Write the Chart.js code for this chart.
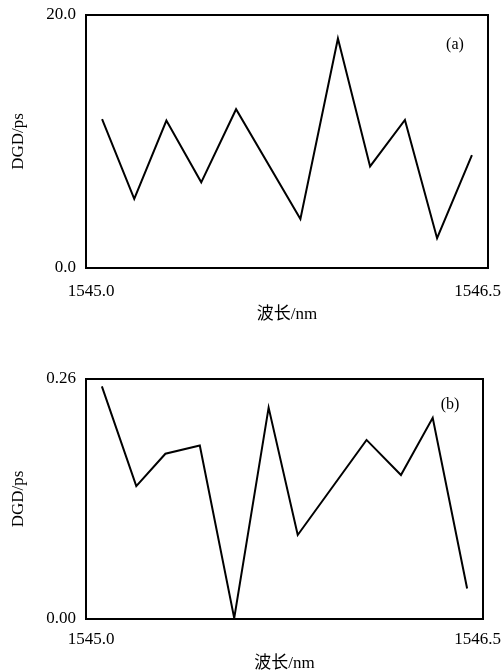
<!DOCTYPE html>
<html>
<head>
<meta charset="utf-8">
<script src="https://cdn.jsdelivr.net/npm/chart.js@4"></script>
<style>
  html, body { margin: 0; padding: 0; background: #fff; }
  #wrap { position: relative; width: 503px; height: 671px; }
  .box { position: absolute; left: 0; width: 503px; }
</style>
</head>
<body>
<div id="wrap">
  <div class="box" style="top:0;height:335px"><canvas id="chartA"></canvas></div>
  <div class="box" style="top:335px;height:336px"><canvas id="chartB"></canvas></div>
</div>
<script>
// wavelength (nm) and DGD (ps)
const waveA = [1545.06, 1545.18, 1545.30, 1545.43, 1545.56, 1545.80, 1545.94, 1546.06, 1546.19, 1546.31, 1546.44];
const dgdA  = [11.76, 5.46, 11.65, 6.77, 12.55, 3.88, 18.14, 8.03, 11.70, 2.36, 8.92];

const waveB = [1545.06, 1545.19, 1545.30, 1545.43, 1545.56, 1545.69, 1545.80, 1546.06, 1546.19, 1546.31, 1546.44];
const dgdB  = [0.252, 0.144, 0.179, 0.188, 0.001, 0.229, 0.091, 0.194, 0.156, 0.218, 0.033];

const xRange = [1545.0, 1546.5];
const yTicksA = [0, 20];
const yTicksB = [0, 0.26];
const xTitle = '波长/nm';
const yTitle = 'DGD/ps';

const FONT = '"Liberation Serif", "DejaVu Serif", "Noto Sans CJK SC", serif';

// frame, x tick labels, x title and panel tag
const framePlugin = {
  id: 'frame',
  afterDraw(chart, args, opts) {
    const ctx = chart.ctx;
    const a = chart.chartArea;
    const xs = chart.scales.x;
    ctx.save();
    ctx.strokeStyle = '#000';
    ctx.lineWidth = 2;
    ctx.strokeRect(a.left, a.top, a.right - a.left, a.bottom - a.top);

    ctx.fillStyle = '#000';
    ctx.font = '17px ' + FONT;
    ctx.textBaseline = 'middle';
    ctx.textAlign = 'center';
    ctx.fillText(xRange[0].toFixed(1), xs.getPixelForValue(xRange[0]) + 5, a.bottom + opts.labelGap);
    ctx.textAlign = 'right';
    ctx.fillText(xRange[1].toFixed(1), chart.width - 2, a.bottom + opts.labelGap);

    ctx.textAlign = 'center';
    ctx.fillText(xTitle, (a.left + a.right) / 2, a.bottom + opts.titleGap);

    ctx.font = '16px ' + FONT;
    ctx.fillText(opts.tag, a.right - 33, a.top + opts.tagGap);
    ctx.restore();
  }
};

function makeChart(id, xs, ys, yTicks, digits, pad, xHeight, extra) {
  const ctx = document.getElementById(id).getContext('2d');
  return new Chart(ctx, {
    type: 'line',
    data: {
      datasets: [{
        data: xs.map((x, i) => ({ x: x, y: ys[i] })),
        borderColor: '#000',
        borderWidth: 2,
        pointRadius: 0,
        tension: 0,
        fill: false
      }]
    },
    options: {
      responsive: true,
      maintainAspectRatio: false,
      animation: false,
      layout: { padding: pad },
      plugins: { legend: { display: false }, tooltip: { enabled: false }, frame: extra },
      scales: {
        x: {
          type: 'linear',
          min: xRange[0], max: xRange[1],
          grid: { display: false, drawTicks: false },
          border: { display: false },
          ticks: { display: false },
          afterFit: s => { s.height = xHeight; }
        },
        y: {
          min: yTicks[0], max: yTicks[1],
          grid: { display: false, drawTicks: false },
          border: { display: false },
          afterBuildTicks: s => { s.ticks = yTicks.map(v => ({ value: v })); },
          ticks: {
            color: '#000', padding: 10,
            font: { family: FONT, size: 17 },
            callback: v => Number(v).toFixed(digits)
          },
          title: {
            display: true, text: yTitle, color: '#000',
            font: { family: FONT, size: 17 },
            padding: { top: 8, bottom: 0 }
          },
          afterFit: s => { s.width = 86; s.paddingTop = 0; s.paddingBottom = 0; }
        }
      }
    },
    plugins: [framePlugin]
  });
}

makeChart('chartA', waveA, dgdA, yTicksA, 1, { left: 0, top: 15, right: 15, bottom: 0 }, 67,
  { tag: '(a)', labelGap: 24, titleGap: 47, tagGap: 30 });
makeChart('chartB', waveB, dgdB, yTicksB, 2, { left: 0, top: 44, right: 20, bottom: 0 }, 52,
  { tag: '(b)', labelGap: 21, titleGap: 45, tagGap: 26 });
</script>
</body>
</html>
